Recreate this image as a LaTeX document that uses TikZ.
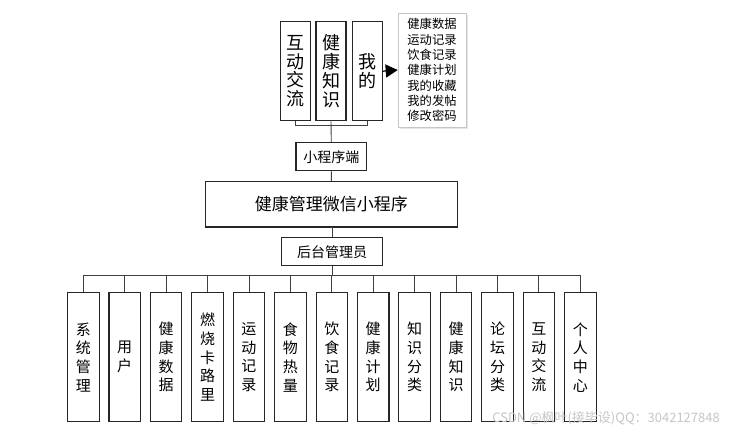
\documentclass[tikz,border=0pt]{standalone}
\usepackage{fontspec}
\setmainfont{Noto Sans CJK SC}
\usetikzlibrary{arrows.meta}
\begin{document}
\begin{tikzpicture}[x=1pt,y=-1pt,
 box/.style={draw=black!85,line width=1.1pt,inner sep=0pt,fill=white},
 topbox/.style={box,minimum width=30pt,minimum height=99pt,align=center,font=\fontsize{18}{18.7}\selectfont},
 botbox/.style={box,minimum width=31.5pt,minimum height=129pt,align=center,font=\fontsize{15}{18.7}\selectfont},
 conn/.style={draw=black!75,line width=0.9pt}]
\useasboundingbox[fill=white] (0,0) rectangle (738,432);
% top boxes
\node[topbox] (t1) at (295.7,71.2) {互\\动\\交\\流};
\node[topbox] (t2) at (331,71.2) {健\\康\\知\\识};
\node[topbox] (t3) at (367.3,71.2) {我\\的};
% list box
\fill[blue!12!gray!18] (400,15) rectangle (468,129);
\node[draw=gray!45,line width=0.6pt,fill=white,inner sep=0pt,minimum width=68pt,minimum height=114pt,align=left,font=\fontsize{12.3}{15.3}\selectfont] (list) at (432,70)
 {健康数据\\运动记录\\饮食记录\\健康计划\\我的收藏\\我的发帖\\修改密码};
\draw[draw=black,line width=1.2pt,-{Triangle[length=12pt,width=13pt]}] (t3.east) -- (list.west);
% middle column
\node[box,minimum width=70.7pt,minimum height=28pt,font=\fontsize{14}{16}\selectfont] (app) at (331.3,156.7) {小程序端};
\node[box,minimum width=252.7pt,minimum height=45.3pt,font=\fontsize{17}{20}\selectfont] (main) at (331.4,204.3) {健康管理微信小程序};
\node[box,minimum width=101pt,minimum height=28pt,font=\fontsize{14}{16}\selectfont] (admin) at (332.2,251.7) {后台管理员};
\coordinate (tb) at (331,125);
\draw[conn] (t1.south) |- (t3.south |- tb) -- (t3.south);
\draw[conn] (t2.south) -- (app.north);
\draw[conn] (app.south) -- (main.north);
\draw[conn] (main.south) -- (admin.south |- main.south) -- (admin.north);
% bottom boxes
\foreach \i/\t in {1/{系\\统\\管\\理},2/{用\\户},3/{健\\康\\数\\据},4/{燃\\烧\\卡\\路\\里},5/{运\\动\\记\\录},6/{食\\物\\热\\量},7/{饮\\食\\记\\录},8/{健\\康\\计\\划},9/{知\\识\\分\\类},10/{健\\康\\知\\识},11/{论\\坛\\分\\类},12/{互\\动\\交\\流},13/{个\\人\\中\\心}}{
 \node[botbox] (b\i) at ({83.3+(\i-1)*41.42},357.2) {\t};
}
\coordinate (bh) at (332,275);
\draw[conn] (admin.south) -- (admin.south |- bh);
\draw[conn] (b1.north) |- (b13.north |- bh) -- (b13.north);
\foreach \i in {2,...,12}{
 \draw[conn] (b\i.north) -- (b\i.north |- bh);
}
% watermark
\node[text=gray!45,font=\fontsize{13}{14}\selectfont,anchor=east,inner sep=0pt] (wm) at (720,418) {CSDN @枫叶(接毕设)QQ：3042127848};
\end{tikzpicture}
\end{document}
